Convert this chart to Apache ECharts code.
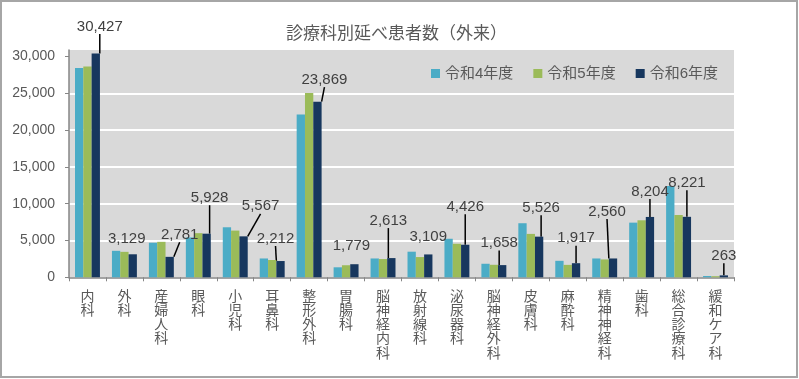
<!DOCTYPE html>
<html>
<head>
<meta charset="utf-8">
<script src="https://cdn.jsdelivr.net/npm/echarts@6/dist/echarts.min.js"></script>
<style>html,body{margin:0;padding:0;background:#fff}#c{width:799px;height:379px}</style>
</head>
<body>
<div id="c"></div>
<script>
var categories = ['内科','外科','産婦人科','眼科','小児科','耳鼻科','整形外科','胃腸科','脳神経内科','放射線科','泌尿器科','脳神経外科','皮膚科','麻酔科','精神神経科','歯科','総合診療科','緩和ケア科'];
var seriesNames = ['令和4年度','令和5年度','令和6年度'];
var r4 = [28450, 3600, 4700, 5420, 6800, 2560, 22140, 1360, 2560, 3480, 5240, 1840, 7350, 2240, 2560, 7430, 12420, 180];
var r5 = [28650, 3460, 4820, 6000, 6350, 2350, 25050, 1640, 2480, 2750, 4560, 1700, 5900, 1690, 2430, 7750, 8470, 150];
var r6 = [30427, 3129, 2781, 5928, 5567, 2212, 23869, 1779, 2613, 3109, 4426, 1658, 5526, 1917, 2560, 8204, 8221, 263];
var yTicks = [0, 5000, 10000, 15000, 20000, 25000, 30000];
// label placement relative to the top centre of each 令和6年度 bar, and whether a leader line is drawn
var labelOffsets = [[4,-27],[-6,-15.5],[10,-22],[3,-36],[17,-30],[-5,-22.5],[7,-22],[-3,-18],[-3,-37.5],[0,-17.5],[0,-38],[-3,-22],[2,-29],[0,-25],[-6,-47],[0,-25.5],[0,-34],[0,-19.5]];
var leaderLine = [true,false,true,true,true,true,true,false,true,false,true,true,true,true,true,true,true,true];

var colors = ['#4BACC6','#9BBB59','#17375E'];
var latin = '"Liberation Sans", "Noto Sans CJK JP", sans-serif';
var cjk = '"Noto Sans CJK JP", sans-serif';

var chart = echarts.init(document.getElementById('c'), null, {renderer:'canvas'});
var navyData = r6.map(function(v,i){ return {value:v, labelLine:{show: leaderLine[i]}}; });

chart.setOption({
  animation:false,
  color: colors,
  title:{
    text:'診療科別延べ患者数（外来）',
    left:281, top:19,
    textStyle:{fontFamily:cjk, fontSize:17, fontWeight:'normal', color:'#595959'}
  },
  legend:{
    data:seriesNames,
    left:426, top:61,
    icon:'rect', itemWidth:9, itemHeight:9, itemGap:20,
    textStyle:{fontFamily:latin, fontSize:15, color:'#595959', padding:[0,0,0,0]}
  },
  grid:{
    left:69, right:65, top:50, height:227.3,
    show:true, backgroundColor:'#D9D9D9', borderWidth:0
  },
  xAxis:{
    type:'category',
    data:categories,
    axisLine:{lineStyle:{color:'#868686', width:1.5}},
    axisTick:{show:true, length:4, lineStyle:{color:'#868686'}},
    axisLabel:{
      interval:0, margin:11,
      fontFamily:cjk, fontSize:14, lineHeight:14.2, color:'#595959',
      formatter:function(v){ return v.split('').join('\n'); }
    },
    splitLine:{show:false}
  },
  yAxis:{
    type:'value',
    min:0, max:30900, interval:5000,
    axisLine:{show:true, lineStyle:{color:'#868686', width:1.5}},
    axisTick:{show:true, length:4, lineStyle:{color:'#868686'}, customValues:yTicks},
    axisLabel:{
      margin:14, fontFamily:latin, fontSize:14, color:'#595959',
      customValues:yTicks,
      formatter:function(v){ return v % 5000 === 0 ? v.toLocaleString('en-US') : ''; }
    },
    splitLine:{show:true, showMaxLine:false, showMinLine:false, lineStyle:{color:'#FFFFFF', width:2}}
  },
  series:[
    {name:seriesNames[0], type:'bar', data:r4, barWidth:'22.5%', barGap:'0%', itemStyle:{color:colors[0]}},
    {name:seriesNames[1], type:'bar', data:r5, barWidth:'22.5%', barGap:'0%', itemStyle:{color:colors[1]}},
    {name:seriesNames[2], type:'bar', data:navyData, barWidth:'22.5%', barGap:'0%', itemStyle:{color:colors[2]},
      label:{show:true, position:'top', fontFamily:latin, fontSize:15, color:'#404040',
        formatter:function(p){ return p.value.toLocaleString('en-US'); }},
      labelLine:{show:true, lineStyle:{color:'#000000', width:1.5}},
      labelLayout:function(p){
        var r = p.rect; var o = labelOffsets[p.dataIndex];
        var top = Math.min(r.y, r.y + r.height);
        return {x: r.x + r.width/2 + o[0], y: top + o[1], align:'center', verticalAlign:'middle'};
      }
    }
  ],
  graphic:[{type:'rect', shape:{x:1, y:1, width:796, height:376}, style:{fill:'none', stroke:'#A6A6A6', lineWidth:2}, silent:true}]
});
</script>
</body>
</html>
